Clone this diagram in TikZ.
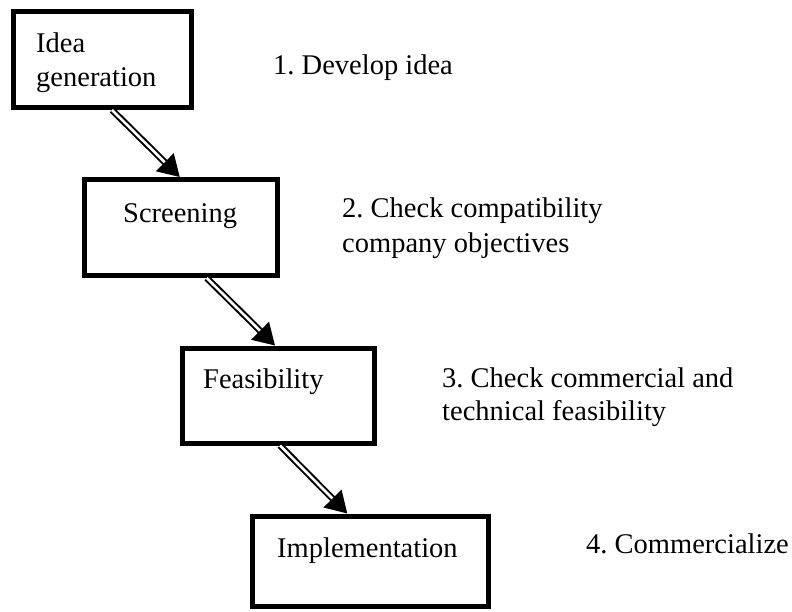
\documentclass[tikz,border=0pt]{standalone}
\usepackage{fontspec}
\setmainfont{Liberation Serif}
\usetikzlibrary{arrows.meta}
\tikzset{
  stagebox/.style={draw, line width=5pt, fill=none, inner sep=0pt},
  lbl/.style={anchor=base west, inner sep=0pt, font=\fontsize{28.5}{34}\selectfont},
  dblarrow/.style={draw, double, line width=2pt, double distance=2.6pt,
    -{Triangle[length=21pt,width=25pt]}},
}
\begin{document}
\frenchspacing
\begin{tikzpicture}[x=1pt,y=1pt]
\useasboundingbox (0,0) rectangle (792,-612);
% boxes
\node[stagebox, minimum width=178pt, minimum height=96pt] (b1) at (102,-59.5) {};
\node[stagebox, minimum width=192.5pt, minimum height=96pt] (b2) at (180.75,-227.5) {};
\node[stagebox, minimum width=192pt, minimum height=95pt] (b3) at (278.5,-395.5) {};
\node[stagebox, minimum width=235.5pt, minimum height=90.5pt] (b4) at (370.25,-561.25) {};
% box texts
\node[lbl] (t1a) at (36,-53) {Idea};
\node[lbl] (t1b) at (36,-87) {generation};
\node[lbl] (t2) at (123,-223) {Screening};
\node[lbl] (t3) at (203,-388) {Feasibility};
\node[lbl] (t4) at (277,-557) {Implementation};
% side texts
\node[lbl] (s1) at (273,-75) {1. Develop idea};
\node[lbl] (s2a) at (342,-218) {2. Check compatibility};
\node[lbl] (s2b) at (342,-253) {company objectives};
\node[lbl] (s3a) at (442,-387) {3. Check commercial and};
\node[lbl] (s3b) at (442,-420) {technical feasibility};
\node[lbl] (s4) at (586,-553) {4. Commercialize};
% arrows
\draw[dblarrow] ([xshift=10pt]b1.south) -- ([xshift=-1pt]b2.north);
\draw[dblarrow] ([xshift=26pt]b2.south) -- ([xshift=-3.5pt]b3.north);
\draw[dblarrow] ([xshift=1.5pt]b3.south) -- ([xshift=-23pt]b4.north);
\end{tikzpicture}
\end{document}
